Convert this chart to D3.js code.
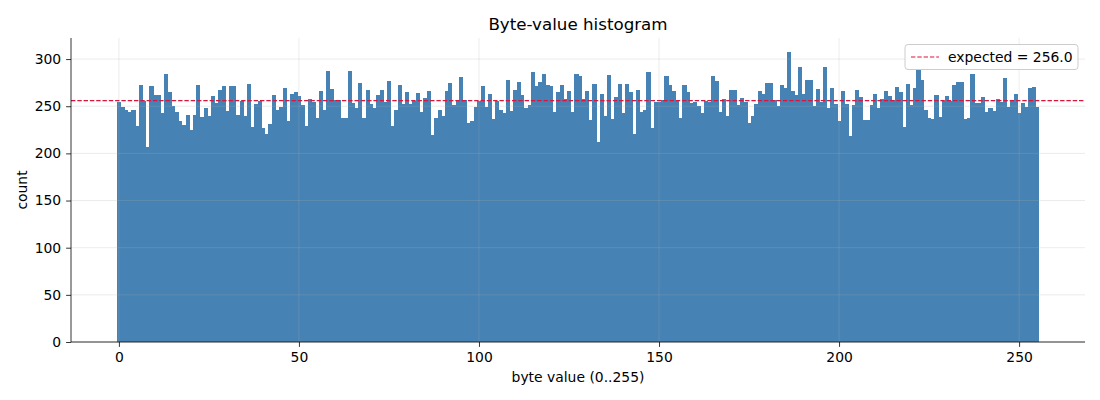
<!DOCTYPE html>
<html>
<head>
<meta charset="utf-8">
<script src="https://cdn.jsdelivr.net/npm/d3@7"></script>
<style>
  html, body { margin: 0; padding: 0; background: #ffffff; }
  svg { display: block; font-family: "DejaVu Sans", sans-serif; }
</style>
</head>
<body>
<svg id="chart" width="1100" height="400"></svg>
<script>
// ---- data ----
const counts = [
  254, 249, 246, 244, 246, 229, 272, 256, 207, 271,
  262, 262, 243, 284, 265, 250, 244, 234, 230, 241,
  225, 241, 272, 239, 248, 240, 261, 253, 267, 271,
  245, 271, 271, 241, 256, 240, 274, 228, 252, 256,
  227, 221, 231, 262, 246, 249, 269, 234, 263, 265,
  261, 251, 229, 258, 254, 238, 266, 246, 287, 268,
  257, 257, 237, 237, 287, 253, 248, 275, 238, 267,
  252, 248, 262, 267, 255, 277, 229, 246, 272, 252,
  265, 252, 256, 264, 244, 259, 266, 220, 238, 246,
  240, 266, 275, 251, 257, 281, 257, 232, 234, 249,
  256, 271, 249, 263, 236, 256, 246, 243, 278, 245,
  267, 276, 262, 248, 251, 286, 271, 276, 284, 273,
  271, 244, 265, 272, 258, 266, 244, 284, 282, 258,
  266, 235, 274, 212, 263, 240, 283, 236, 260, 274,
  243, 274, 265, 221, 267, 244, 246, 286, 227, 254,
  255, 257, 282, 273, 266, 257, 238, 273, 265, 253,
  254, 250, 243, 256, 255, 282, 277, 244, 258, 240,
  267, 267, 251, 259, 254, 232, 240, 252, 266, 263,
  275, 275, 257, 250, 273, 269, 307, 266, 262, 292,
  263, 278, 278, 250, 268, 254, 292, 248, 269, 252,
  234, 266, 252, 218, 251, 267, 260, 235, 235, 251,
  263, 248, 258, 266, 261, 257, 270, 265, 228, 274,
  251, 269, 288, 278, 246, 237, 236, 262, 239, 256,
  261, 256, 272, 276, 276, 236, 237, 284, 253, 253,
  260, 244, 248, 245, 258, 255, 280, 249, 257, 263,
  243, 253, 249, 269, 270, 249
];
const expectedCount = 256.0;
const xTickValues = [0, 50, 100, 150, 200, 250];
const yTickValues = [0, 50, 100, 150, 200, 250, 300];
const titleText = "Byte-value histogram";
const xLabelText = "byte value (0..255)";
const yLabelText = "count";
const legendText = "expected = 256.0";

// ---- layout ----
const svg = d3.select("#chart");
const plot = { left: 71, right: 1085, top: 38, bottom: 342 };

const lo = -0.5, hi = counts.length - 0.5;
const pad = (hi - lo) * 0.05;
const x = d3.scaleLinear().domain([lo - pad, hi + pad]).range([plot.left, plot.right]);
const yMax = d3.max(counts) * 1.05;
const y = d3.scaleLinear().domain([0, yMax]).range([plot.bottom, plot.top]);

const tickFont = 13.9;

// bars
svg.append("g")
  .attr("shape-rendering", "crispEdges")
  .selectAll("rect")
  .data(counts)
  .join("rect")
  .attr("x", (d, i) => x(i - 0.5))
  .attr("width", (d, i) => x(i + 0.5) - x(i - 0.5) + 0.5)
  .attr("y", d => y(d))
  .attr("height", d => y(0) - y(d))
  .attr("fill", "#4682b4");

// grid (drawn above bars, like matplotlib)
const grid = svg.append("g").attr("stroke", "#b0b0b0").attr("stroke-opacity", 0.3).attr("stroke-width", 0.8);
grid.selectAll("line.gx").data(xTickValues).join("line")
  .attr("x1", d => x(d)).attr("x2", d => x(d))
  .attr("y1", plot.top).attr("y2", plot.bottom);
grid.selectAll("line.gy").data(yTickValues).join("line")
  .attr("x1", plot.left).attr("x2", plot.right)
  .attr("y1", d => y(d)).attr("y2", d => y(d));

// expected line
svg.append("line")
  .attr("x1", plot.left).attr("x2", plot.right)
  .attr("y1", y(expectedCount)).attr("y2", y(expectedCount))
  .attr("stroke", "#dc143c").attr("stroke-width", 1.2)
  .attr("stroke-dasharray", "4.4,1.9");

// axes
const xAxis = d3.axisBottom(x).tickValues(xTickValues).tickSize(4.9).tickPadding(4.9).tickFormat(d3.format("d"));
const yAxis = d3.axisLeft(y).tickValues(yTickValues).tickSize(4.9).tickPadding(4.9).tickFormat(d3.format("d"));

const gx = svg.append("g").attr("transform", `translate(0,${plot.bottom})`).call(xAxis);
const gy = svg.append("g").attr("transform", `translate(${plot.left},0)`).call(yAxis);
[gx, gy].forEach(g => {
  g.select(".domain").remove();
  g.selectAll(".tick line").attr("stroke", "#000").attr("stroke-width", 0.8);
  g.selectAll(".tick text").attr("fill", "#000").attr("font-size", tickFont)
    .attr("font-family", "DejaVu Sans, sans-serif");
});
// spines (left & bottom only)
svg.append("line").attr("x1", plot.left).attr("x2", plot.left)
  .attr("y1", plot.top).attr("y2", plot.bottom).attr("stroke", "#000").attr("stroke-width", 0.8);
svg.append("line").attr("x1", plot.left).attr("x2", plot.right)
  .attr("y1", plot.bottom).attr("y2", plot.bottom).attr("stroke", "#000").attr("stroke-width", 0.8);

// title & labels
svg.append("text").attr("x", (plot.left + plot.right) / 2).attr("y", 30)
  .attr("text-anchor", "middle").attr("font-size", 16.7).attr("fill", "#000").text(titleText);
svg.append("text").attr("x", (plot.left + plot.right) / 2).attr("y", 382)
  .attr("text-anchor", "middle").attr("font-size", tickFont).attr("fill", "#000").text(xLabelText);
svg.append("text").attr("transform", `translate(27,${(plot.top + plot.bottom) / 2}) rotate(-90)`)
  .attr("text-anchor", "middle").attr("font-size", tickFont).attr("fill", "#000").text(yLabelText);

// legend
const lg = svg.append("g");
lg.append("rect").attr("x", 905).attr("y", 44.5).attr("width", 173).attr("height", 25)
  .attr("rx", 3).attr("fill", "#fff").attr("fill-opacity", 0.8)
  .attr("stroke", "#cccccc").attr("stroke-width", 1);
lg.append("line").attr("x1", 911).attr("x2", 939).attr("y1", 57).attr("y2", 57)
  .attr("stroke", "#dc143c").attr("stroke-width", 1.2).attr("stroke-dasharray", "4.4,1.9");
lg.append("text").attr("x", 948).attr("y", 62).attr("font-size", tickFont).attr("fill", "#000").text(legendText);
</script>
</body>
</html>
